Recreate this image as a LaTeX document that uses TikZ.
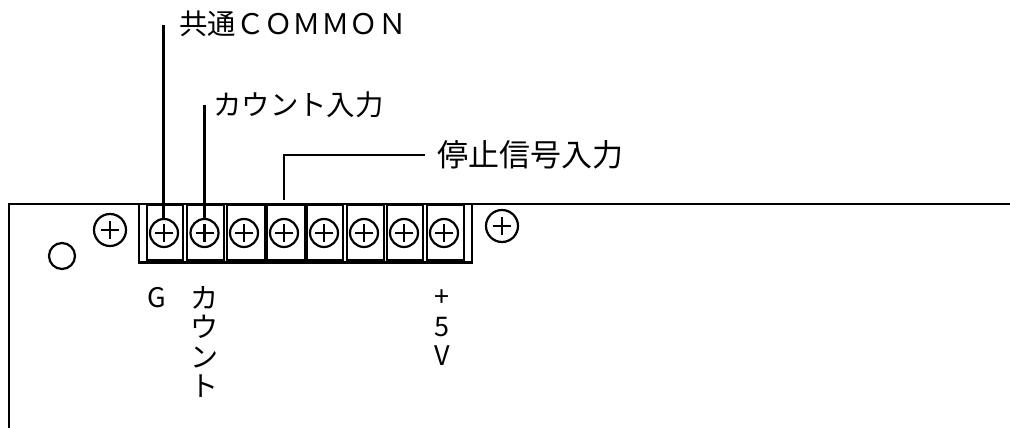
\documentclass[tikz,border=0pt]{standalone}
\usepackage{fontspec}
\setmainfont{Noto Sans CJK JP}
\tikzset{
  x=1pt,y=-1pt,
  line/.style={draw=black,line width=2.2pt},
  cell/.style={draw=black,line width=2.4pt},
  screw/.style={circle,draw=black,line width=2.2pt,minimum size=#1,inner sep=0pt,outer sep=0pt,
    path picture={\draw[black,line width=2.2pt] ([xshift=-9pt]path picture bounding box.center)--([xshift=9pt]path picture bounding box.center)
      ([yshift=-9pt]path picture bounding box.center)--([yshift=9pt]path picture bounding box.center);}},
  lead/.style={draw=black,line width=2.4pt},
  lbl/.style={inner sep=0pt,anchor=west,font=\fontsize{28.4pt}{28.4pt}\selectfont},
  tag/.style={inner sep=0pt,align=center,font=\fontsize{27pt}{27pt}\selectfont},
}
\begin{document}
\begin{tikzpicture}
\useasboundingbox (0,0) rectangle (1010,428);
% panel outline
\draw[line] (9,428) -- (9,204) -- (139,204);
\draw[line] (472,204) -- (1010,204);
% terminal block
\draw[line] (139,204) rectangle (472,262.5);
\draw[line width=1.5pt] (147,205) rectangle (183,260);
\foreach \a/\b in {187/224,227/265,267/305,307/343,347/384,387/423,427/464}{
  \draw[cell] (\a,205) rectangle (\b,260);
}
% screws
\foreach \n/\x in {s1/164,s2/204.5,s3/244,s4/284,s5/324,s6/364,s7/404,s8/444}{
  \node[screw=28pt] (\n) at (\x,233) {};
}
\node[screw=32pt] (f1) at (110,230) {};
\node[screw=32pt] (f2) at (502,226) {};
\node[circle,draw=black,line width=2.2pt,minimum size=26pt,inner sep=0pt] (hole) at (62,256) {};
% leaders
\coordinate (c1) at (163.5,25);
\coordinate (c2) at (204.5,105);
\coordinate (c3) at (284,200);
\coordinate (c4) at (284,155);
\coordinate (c5) at (425,155);
\draw[lead] (c1) -- (163.5,219);
\draw[lead] (c2) -- (s2.north);
\draw[lead,line width=1.5pt] (c3) -- (c4) -- (c5);
% labels
\node[lbl] (t1) at (179,24) {共通ＣＯＭＭＯＮ};
\node[lbl] (t2) at (213,105) {カウント入力};
\node[lbl,font=\fontsize{31pt}{31pt}\selectfont] (t3) at (437,155) {停止信号入力};
\node[tag] (g) at (157,298) {G};
\node[tag,anchor=north,font=\fontsize{28pt}{29.5pt}\selectfont] (k) at (204,286) {カ\\ウ\\ン\\ト};
\node[tag,anchor=north,font=\fontsize{27pt}{29.5pt}\selectfont] (v) at (442,290) {+\\5\\V};
\end{tikzpicture}
\end{document}
